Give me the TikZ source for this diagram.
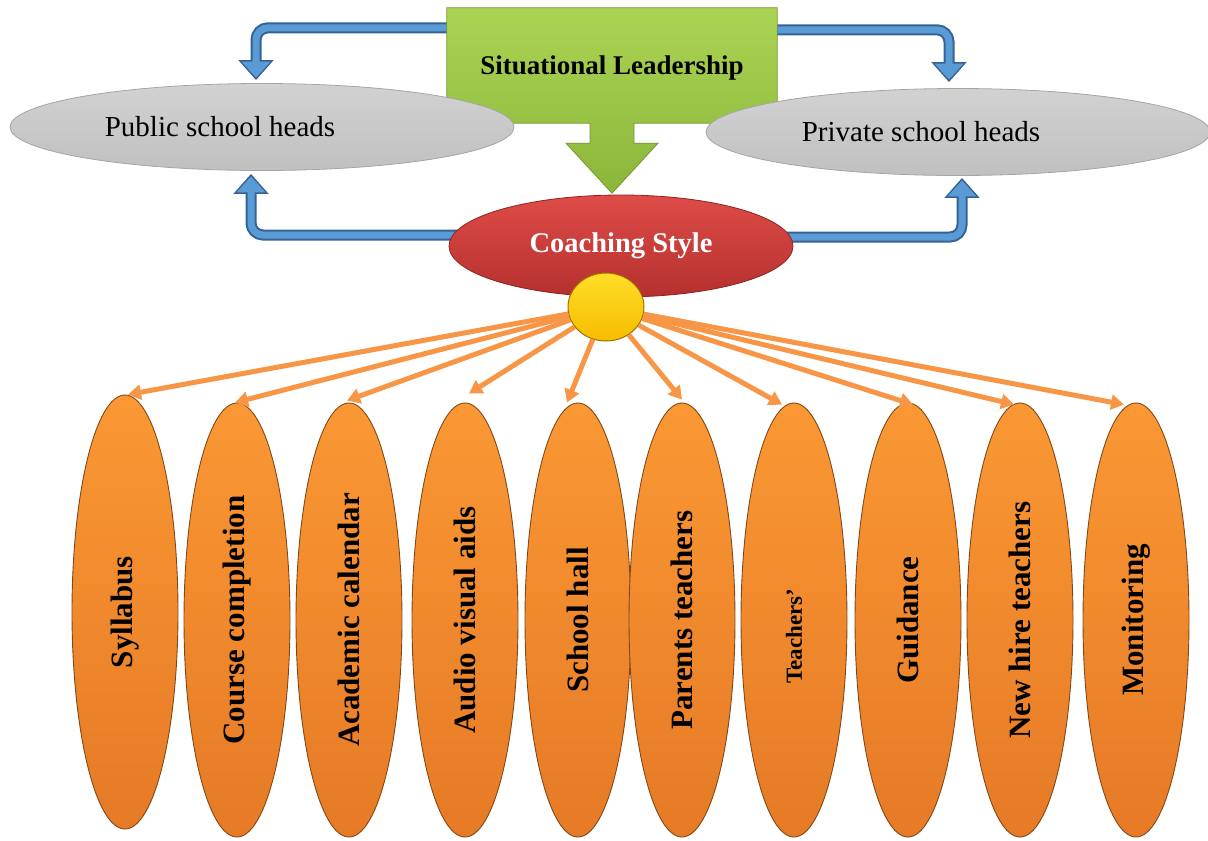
\documentclass[tikz,border=0pt]{standalone}
\usepackage{fontspec}
\usepackage{graphicx}
\setmainfont{Liberation Serif}
\usetikzlibrary{shapes.geometric,arrows.meta,calc,backgrounds}

\definecolor{leadtop}{RGB}{172,212,84}
\definecolor{leadbot}{RGB}{138,182,58}
\definecolor{leadedge}{RGB}{118,150,48}
\definecolor{headtop}{RGB}{210,210,210}
\definecolor{headbot}{RGB}{192,192,192}
\definecolor{headedge}{RGB}{165,165,165}
\definecolor{coachtop}{RGB}{222,76,72}
\definecolor{coachbot}{RGB}{180,48,46}
\definecolor{coachedge}{RGB}{140,36,34}
\definecolor{hubtop}{RGB}{255,222,40}
\definecolor{hubbot}{RGB}{246,188,0}
\definecolor{hubedge}{RGB}{160,110,0}
\definecolor{bluefill}{RGB}{91,155,213}
\definecolor{blueedge}{RGB}{52,98,150}
\definecolor{orangeline}{RGB}{247,150,70}
\definecolor{pilltop}{RGB}{250,152,52}
\definecolor{pillbot}{RGB}{230,122,38}
\definecolor{pilledge}{RGB}{130,72,24}

\begin{document}
\begin{tikzpicture}[x=1pt,y=-1pt,
  headsell/.style={ellipse, draw=headedge, line width=0.8pt, top color=headtop,
    bottom color=headbot, minimum width=504pt, minimum height=87pt, inner sep=0pt,
    font=\fontsize{29}{34}\selectfont},
  pill/.style={ellipse, draw=pilledge, line width=0.9pt, top color=pilltop,
    bottom color=pillbot, minimum width=106pt, minimum height=434pt, inner sep=0pt,
    font=\bfseries\fontsize{31}{36}\selectfont},
  spoke/.style={draw=orangeline, line width=5pt, -{Triangle[width=15pt,length=13pt]}},
  loopout/.style={draw=blueedge, line width=11pt, rounded corners=12pt,
    -{Triangle[width=34pt,length=20pt]}},
  loopin/.style={draw=bluefill, line width=7pt, rounded corners=12pt,
    -{Triangle[width=28pt,length=16pt]}, shorten >=2.5pt}]

\useasboundingbox (0,0) rectangle (1208,841);

% frame of the leadership block (the shaded outline is drawn on the background layer)
\node[rectangle, minimum width=330pt, minimum height=115pt, inner sep=0pt] (lead) at (612,65.5) {};

% school heads
\node[headsell] (pub) at (262,127) {Public school heads\hspace*{84pt}};
\node[headsell] (priv) at (958,132) {Private school heads\hspace*{74pt}};

% coaching style and its hub
\node[ellipse, draw=coachedge, line width=0.8pt, top color=coachtop, bottom color=coachbot,
  minimum width=344pt, minimum height=102pt, inner sep=0pt, text=white,
  font=\bfseries\fontsize{28.5}{32}\selectfont] (coach) at (621,246) {Coaching Style};

\node[font=\bfseries\fontsize{27}{31}\selectfont] (leadtext) at ($(lead.center)+(0,3)$) {Situational Leadership};

% areas of coaching
\node[pill] (e1) at (125,612) {\rotatebox{90}{Syllabus}};
\node[pill] (e2) at (237,620) {\rotatebox{90}{Course completion}};
\node[pill] (e3) at (349,620) {\rotatebox{90}{Academic calendar}};
\node[pill] (e4) at (465,620) {\rotatebox{90}{Audio visual aids}};
\node[pill] (e5) at (578,620) {\rotatebox{90}{School hall}};
\node[pill] (e6) at (682,620) {\rotatebox{90}{Parents teachers}};
\node[pill, font=\bfseries\fontsize{23}{27}\selectfont] (e7) at (794,620) {\rotatebox{90}{Teachers’\hspace*{32pt}}};
\node[pill] (e8) at (908,620) {\rotatebox{90}{Guidance}};
\node[pill] (e9) at (1020,620) {\rotatebox{90}{New hire teachers}};
\node[pill] (e10) at (1136,620) {\rotatebox{90}{Monitoring}};

\node[ellipse, draw=hubedge, line width=1pt, top color=hubtop, bottom color=hubbot,
  minimum width=76pt, minimum height=68pt, inner sep=0pt] (hub) at (606,307) {};

% spokes from the hub
\draw[spoke] (hub) -- ($(e1.north)+(3,0)$);
\draw[spoke] (hub) -- ($(e2.north)+(-2,0)$);
\draw[spoke] (hub) -- ($(e3.north)+(-2,-2)$);
\draw[spoke] (hub) -- ($(e4.north)+(4,-9)$);
\draw[spoke] (hub) -- ($(e5.north)+(-11,0)$);
\draw[spoke] (hub) -- ($(e6.north)+(0,-3)$);
\draw[spoke] (hub) -- ($(e7.north)+(-12,2)$);
\draw[spoke] (hub) -- ($(e8.north)+(5,2)$);
\draw[spoke] (hub) -- ($(e9.north)+(-6,2)$);
\draw[spoke] (hub) -- ($(e10.north)+(-12,2)$);

\begin{pgfonlayer}{background}
  % bent block arrows towards the school heads
  \draw[loopout] ($(lead.north west)+(0,20)$) -| ($(pub.north)+(-6,-3)$);
  \draw[loopin]  ($(lead.north west)+(0,20)$) -| ($(pub.north)+(-6,-3)$);
  \draw[loopout] ($(lead.north east)+(0,22)$) -| ($(priv.north)+(-9,-6)$);
  \draw[loopin]  ($(lead.north east)+(0,22)$) -| ($(priv.north)+(-9,-6)$);
  \draw[loopout] ($(coach.west)+(25,-11)$) -| ($(pub.south)+(-11,3)$);
  \draw[loopin]  ($(coach.west)+(25,-11)$) -| ($(pub.south)+(-11,3)$);
  \draw[loopout] ($(coach.east)+(-25,-9)$) -| ($(priv.south)+(4,2)$);
  \draw[loopin]  ($(coach.east)+(-25,-9)$) -| ($(priv.south)+(4,2)$);
  % leadership block with its downward arrow
  \draw[draw=leadedge, line width=0.8pt, top color=leadtop, bottom color=leadbot]
    (lead.north west) -- (lead.north east) -- (lead.south east)
    -- ($(lead.south)+(22,0)$) -- ($(lead.south)+(22,20)$) -- ($(lead.south)+(46,20)$)
    -- ($(lead.south)+(0,70)$) -- ($(lead.south)+(-46,20)$) -- ($(lead.south)+(-22,20)$)
    -- ($(lead.south)+(-22,0)$) -- (lead.south west) -- cycle;
\end{pgfonlayer}
\end{tikzpicture}
\end{document}
